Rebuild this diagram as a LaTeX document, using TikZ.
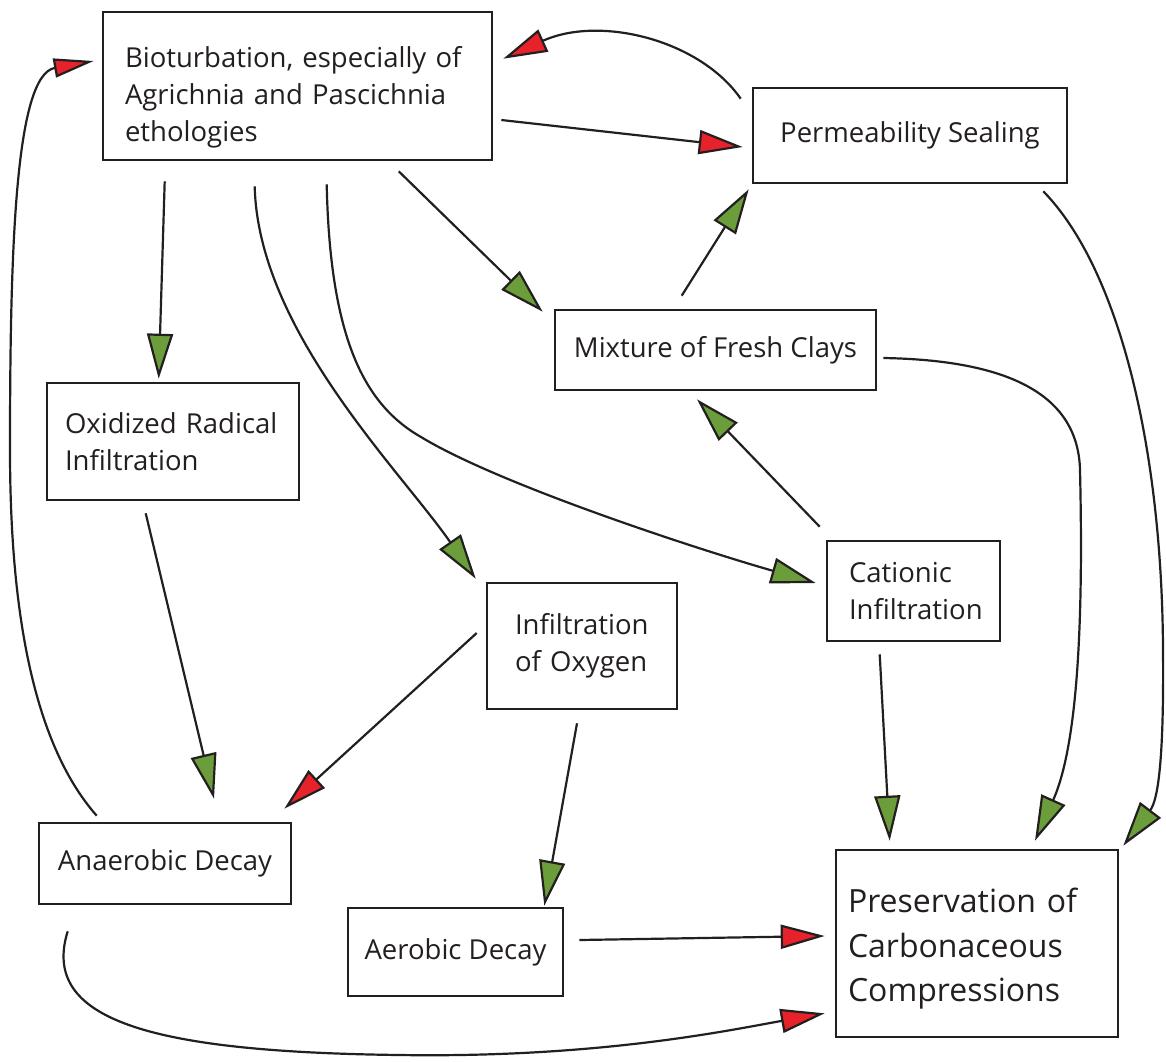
\documentclass[tikz,border=0pt]{standalone}
\usepackage{fontspec}
\setmainfont{Open Sans}
\usetikzlibrary{arrows.meta,calc}
\definecolor{ink}{HTML}{231F20}
\definecolor{agreen}{HTML}{6B9E3A}
\definecolor{ared}{HTML}{E8222A}
\begin{document}
\begin{tikzpicture}[x=1pt,y=-1pt,
 box/.style={draw=ink, line width=2.6pt, inner sep=0pt, text=ink, font=\fontsize{27.5}{37}\selectfont},
 con/.style={draw=ink, line width=2.2pt},
 ga/.style={con, -{Triangle[length=45pt,width=26pt,fill=agreen]}},
 ra/.style={con, -{Triangle[length=44pt,width=24pt,fill=ared]}},
 rs/.style={con, -{Triangle[length=40pt,width=19pt,fill=ared]}},
]
\useasboundingbox (0,0) rectangle (1166,1061);

\node[box, minimum width=389, minimum height=148, text width=345, align=left] (bio) at (297.5,86)
  {\rule{0pt}{44pt}Bioturbation, especially of\\Agrichnia and Pascichnia\\ethologies};
\node[box, minimum width=314, minimum height=95, align=center] (perm) at (910,135.5) {Permeability Sealing};
\node[box, minimum width=321, minimum height=80, align=center] (mix) at (715.5,350) {Mixture of Fresh Clays};
\node[box, minimum width=252, minimum height=117, text width=216, align=left] (oxi) at (173,441.5)
  {Oxidized Radical\\Infiltration};
\node[box, minimum width=173, minimum height=100, text width=129, align=left] (cat) at (913.5,591)
  {Cationic\\Infiltration};
\node[box, minimum width=190, minimum height=126, text width=134, align=left] (infox) at (582,646)
  {Infiltration\\of Oxygen};
\node[box, minimum width=252, minimum height=81, align=center] (anaer) at (165,863.5) {Anaerobic Decay};
\node[box, minimum width=215, minimum height=88, align=center] (aer) at (455.5,952) {Aerobic Decay};
\node[box, minimum width=282, minimum height=187, text width=258, align=left,
  font=\fontsize{32}{44.5}\selectfont] (pres) at (977,943.5)
  {\rule{0pt}{35pt}Preservation of\\Carbonaceous\\Compressions};

% from Bioturbation
\draw[ga] ($(bio.south west)+(63,20)$) -- ($(oxi.north west)+(113,-3)$);
\draw[ga] ($(bio.south west)+(153,25)$) .. controls (258,330) and (400,470) .. ($(infox.north west)+(-10,-3)$);
\draw[ga] ($(bio.south west)+(225,23)$) .. controls (330,340) and (365,405) .. (421,437)
  .. controls (500,485) and (700,550) .. ($(cat.west)+(-10,-8)$);
\draw[ga] ($(bio.south west)+(297,10)$) -- ($(mix.north west)+(-11,3)$);
\draw[ra] ($(bio.east)+(8,34)$) -- ($(perm.west)+(-9,11.5)$);

% from Permeability Sealing
\draw[ra] ($(perm.north west)+(-11,12)$) .. controls (700,40) and (600,15) .. ($(bio.north east)+(10,48)$);
\draw[ga] ($(perm.south east)+(-25,7)$) .. controls (1120,270) and (1162,450) .. (1163,650)
  .. controls (1164,760) and (1158,800) .. ($(pres.north east)+(4,-3)$);

% from Mixture of Fresh Clays
\draw[ga] ($(mix.north west)+(128,-13)$) -- ($(perm.south west)+(-3,5)$);
\draw[ga] ($(mix.east)+(6,8)$) .. controls (1000,360) and (1078,390) .. (1080,470)
  .. controls (1083,600) and (1080,740) .. ($(pres.north)+(58,-8)$);

% from Cationic Infiltration
\draw[ga] ($(cat.north west)+(-6,-13)$) -- ($(mix.south)+(-18.5,8)$);
\draw[ga] ($(cat.south west)+(54,12)$) -- ($(pres.north west)+(55,-8)$);

% from Oxidized Radical Infiltration
\draw[ga] ($(oxi.south west)+(100,12)$) -- ($(anaer.north)+(49,-23)$);

% from Infiltration of Oxygen
\draw[ra] ($(infox.west)+(-9,-13)$) -- ($(anaer.north east)+(-8,-13)$);
\draw[ga] ($(infox.south)+(-5,13)$) -- ($(aer.north east)+(-20,-1)$);

% from Aerobic Decay
\draw[ra] ($(aer.east)+(15,-12)$) -- ($(pres.west)+(-10,-7.5)$);

% from Anaerobic Decay
\draw[ra] ($(anaer.south west)+(30,26)$) .. controls (40,1020) and (150,1052) .. (400,1055)
  .. controls (600,1058) and (730,1030) .. ($(pres.south west)+(-10,-25)$);
\draw[rs] ($(anaer.north west)+(59,-6)$) .. controls (30,740) and (10,600) .. (10,450)
  .. controls (10,250) and (15,75) .. ($(bio.west)+(-8,-25)$);
\end{tikzpicture}
\end{document}
